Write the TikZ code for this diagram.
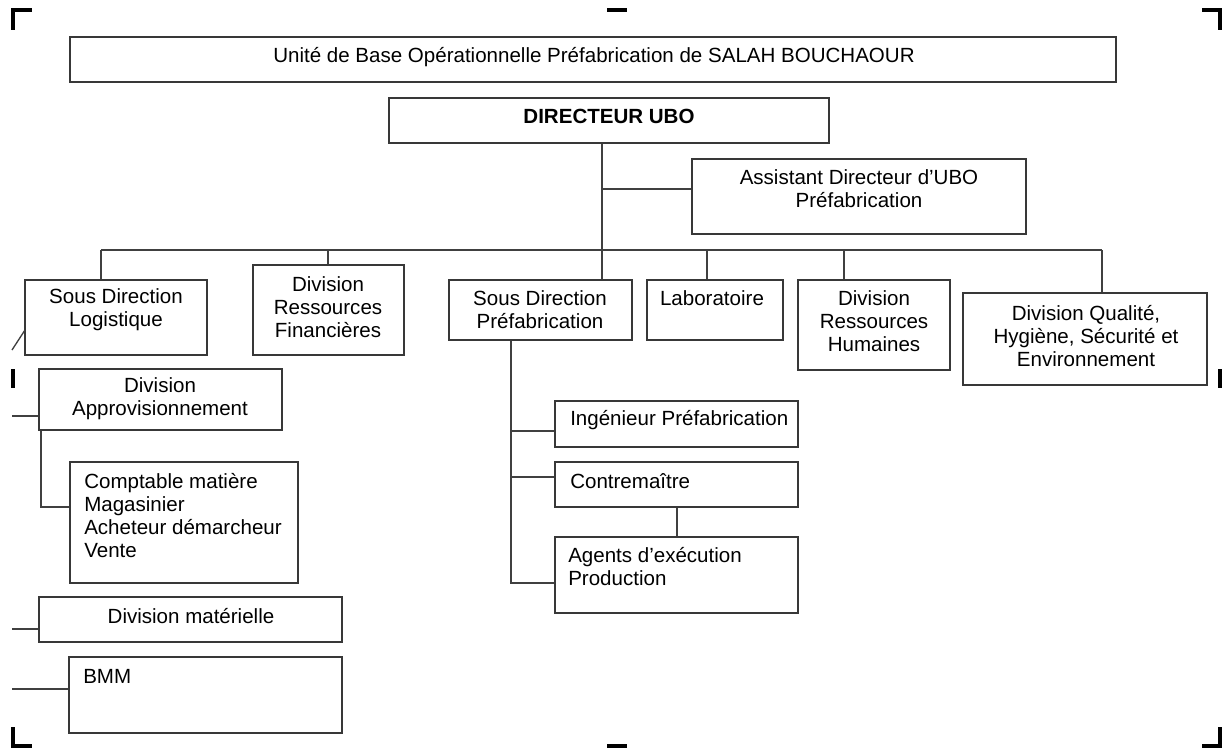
\documentclass[tikz,border=0pt]{standalone}
\usepackage{fontspec}
\setmainfont{Liberation Sans}
\usetikzlibrary{fit}
\tikzset{
  box/.style={draw=black!78, line width=1pt, inner sep=0pt, fit={#1}},
  lbl/.style={inner sep=0pt, align=center, font=\fontsize{15.4}{17.25}\selectfont},
  lbll/.style={inner sep=0pt, align=left, anchor=west, font=\fontsize{15.4}{17.25}\selectfont},
  conn/.style={draw=black!75, line width=1pt},
  crop/.style={draw=black, line width=2.4pt}
}
\begin{document}
\begin{tikzpicture}[x=0.75pt,y=-0.75pt]
\useasboundingbox (0,0) rectangle (1223,749);
% crop marks
\draw[crop] (13,30) -- (13,10) -- (32,10);
\draw[crop] (607,10) -- (627,10);
\draw[crop] (1202,10) -- (1220,10) -- (1220,30);
\draw[crop] (13,369) -- (13,388);
\draw[crop] (1220,369) -- (1220,388);
\draw[crop] (13,727) -- (13,746) -- (32,746);
\draw[crop] (607,746) -- (627,746);
\draw[crop] (1202,746) -- (1220,746) -- (1220,727);

% boxes
\node[box={(70,37)(1116,82)}] (title) {};
\node[box={(389,98)(829,143)}] (dir) {};
\node[box={(692,159)(1026,234)}] (asst) {};
\node[box={(25,280)(207,355)}] (sdl) {};
\node[box={(253,265)(404,355)}] (drf) {};
\node[box={(449,280)(632,340)}] (sdp) {};
\node[box={(647,280)(783,340)}] (lab) {};
\node[box={(798,280)(950,370)}] (drh) {};
\node[box={(963,293)(1207,385)}] (qhse) {};
\node[box={(39,369)(282,430)}] (da) {};
\node[box={(70,462)(298,583)}] (cm) {};
\node[box={(39,597)(342,642)}] (dm) {};
\node[box={(69,657)(342,733)}] (bmm) {};
\node[box={(555,401)(798,447)}] (ing) {};
\node[box={(555,462)(798,507)}] (cont) {};
\node[box={(555,537)(798,613)}] (ag) {};

% texts
\node[lbl] (ttitle) at (594,57) {Unité de Base Opérationnelle Préfabrication de SALAH BOUCHAOUR};
\node[lbl, font=\fontsize{15.4}{17.25}\selectfont\bfseries] (tdir) at (609,116) {DIRECTEUR UBO};
\node[lbl] (tasst) at (859,188.5) {Assistant Directeur d’UBO\\Préfabrication};
\node[lbl] (tsdl) at (116,309.5) {Sous Direction\\Logistique};
\node[lbl] (tdrf) at (328,307) {Division\\Ressources\\Financières};
\node[lbl] (tsdp) at (540,309.5) {Sous Direction\\Préfabrication};
\node[lbl] (tlab) at (712,298) {Laboratoire};
\node[lbl] (tdrh) at (874,321.5) {Division\\Ressources\\Humaines};
\node[lbl] (tqhse) at (1086,336.5) {Division Qualité,\\Hygiène, Sécurité et\\Environnement};
\node[lbl] (tda) at (160,399) {Division\\Approvisionnement};
\node[lbll] (tcm) at (84,516) {Comptable matière\\Magasinier\\Acheteur démarcheur\\Vente};
\node[lbl] (tdm) at (191,616) {Division matérielle};
\node[lbll] (tbmm) at (83,676) {BMM};
\node[lbll] (ting) at (570,420) {Ingénieur Préfabrication};
\node[lbll] (tcont) at (570,481) {Contremaître};
\node[lbll] (tag) at (568,566.5) {Agents d’exécution\\Production};

% connectors
\coordinate (b0) at (602,250);
\coordinate (ab) at (602,189);
\coordinate (bl) at (101,250);
\coordinate (br) at (1102,250);
\coordinate (bf) at (328,250);
\coordinate (blab) at (707,250);
\coordinate (bh) at (844,250);
\draw[conn] (dir.south -| b0) -- (b0);
\draw[conn] (ab) -- (ab -| asst.west);
\draw[conn] (bl) -- (br);
\draw[conn] (bl) -- (bl |- sdl.north);
\draw[conn] (bf) -- (bf |- drf.north);
\draw[conn] (b0) -- (b0 |- sdp.north);
\draw[conn] (blab) -- (blab |- lab.north);
\draw[conn] (bh) -- (bh |- drh.north);
\draw[conn] (br) -- (br |- qhse.north);

% left side
\coordinate (s1) at (12,350);
\coordinate (s2) at (25,330);
\draw[conn] (s1) -- (s2);
\coordinate (l1) at (12,416);
\draw[conn] (l1) -- (l1 -| da.west);
\coordinate (c1) at (41,507);
\draw[conn] (c1 |- da.south) -- (c1) -- (c1 -| cm.west);
\coordinate (l2) at (12,629);
\draw[conn] (l2) -- (l2 -| dm.west);
\coordinate (l3) at (12,689);
\draw[conn] (l3) -- (l3 -| bmm.west);

% préfabrication tree
\coordinate (p0) at (511,583);
\coordinate (pi) at (511,431);
\coordinate (pc) at (511,477);
\draw[conn] (p0 |- sdp.south) -- (p0) -- (p0 -| ag.west);
\draw[conn] (pi) -- (pi -| ing.west);
\draw[conn] (pc) -- (pc -| cont.west);
\coordinate (ca) at (677,520);
\draw[conn] (ca |- cont.south) -- (ca |- ag.north);
\end{tikzpicture}
\end{document}
